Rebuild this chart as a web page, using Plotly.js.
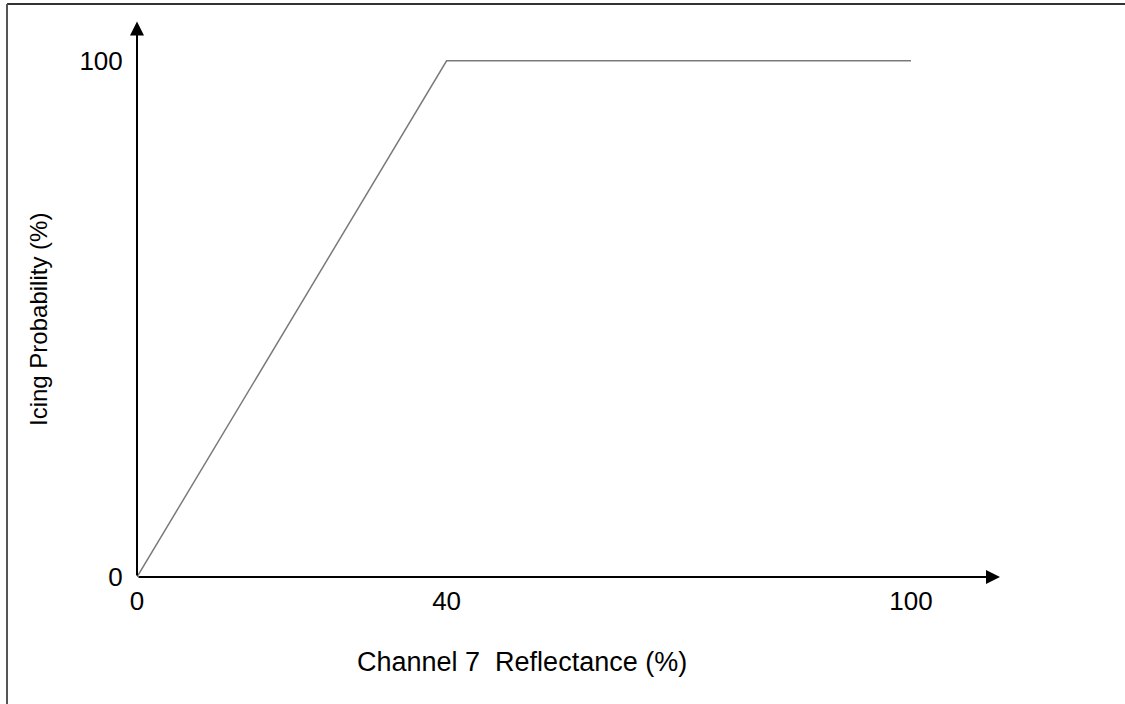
<!DOCTYPE html>
<html>
<head>
<meta charset="utf-8">
<script src="https://cdn.plot.ly/plotly-3.0.1.min.js"></script>
<style>html,body{margin:0;padding:0;background:#fff;}#chart{width:1125px;height:704px;}</style>
</head>
<body>
<div id="chart"></div>
<script>
// Data
const reflectance = [0, 40, 100];       // Channel 7 Reflectance (%)
const icingProb = [0, 100, 100];        // Icing Probability (%)
const xTickVals = [0, 40, 100];
const xTickText = ['0', '40', '100'];
const yTickVals = [0, 100];
const yTickText = ['0', '100'];
const xTitle = 'Channel 7  Reflectance (%)';
const yTitle = 'Icing Probability (%)';

const xMax = 111.5, yMax = 108.3;
const FONT = 'Liberation Sans, Arial, sans-serif';

const trace = {
  x: reflectance, y: icingProb, type: 'scatter', mode: 'lines',
  line: {color: '#7a7a7a', width: 1.5}, hoverinfo: 'skip', showlegend: false, cliponaxis: false
};

// paper-coordinate helpers
const L = 137, R = 125, T = 18, B = 127, W = 1125, H = 704;
const pw = W - L - R, ph = H - T - B;
const px = v => (v - L) / pw;
const py = v => ((H - B) - v) / ph;

const layout = {
  width: W, height: H,
  margin: {l: L, r: R, t: T, b: B, pad: 0},
  paper_bgcolor: '#fff', plot_bgcolor: '#fff',
  font: {family: FONT, size: 26, color: '#000'},
  xaxis: {
    range: [0, xMax], showgrid: false, zeroline: false, showline: false,
    tickvals: xTickVals, ticktext: xTickText, ticks: 'outside', ticklen: 1, tickcolor: 'rgba(0,0,0,0)',
    tickfont: {family: FONT, size: 26, color: '#000'},
    automargin: false, fixedrange: true
  },
  yaxis: {
    range: [0, yMax], showgrid: false, zeroline: false, showline: false,
    tickvals: yTickVals, ticktext: yTickText, ticks: 'outside', ticklen: 8, tickcolor: 'rgba(0,0,0,0)',
    tickfont: {family: FONT, size: 26, color: '#000'},
    automargin: false, fixedrange: true
  },
  annotations: [
    {x: xMax, y: 0, ax: 0, ay: 0, xref: 'x', yref: 'y', axref: 'x', ayref: 'y', text: '',
     showarrow: true, arrowhead: 2, arrowsize: 1.4, arrowwidth: 2, arrowcolor: '#000', standoff: 0},
    {x: 0, y: 107.6, ax: 0, ay: 0, xref: 'x', yref: 'y', axref: 'x', ayref: 'y', text: '',
     showarrow: true, arrowhead: 2, arrowsize: 1.4, arrowwidth: 2, arrowcolor: '#000', standoff: 0},
    {x: px(522), y: py(662), xref: 'paper', yref: 'paper', xanchor: 'center', yanchor: 'middle',
     text: xTitle, showarrow: false, font: {family: FONT, size: 27, color: '#000'}},
    {x: px(38), y: py(320), xref: 'paper', yref: 'paper', xanchor: 'center', yanchor: 'middle',
     text: yTitle, textangle: -90, showarrow: false, font: {family: FONT, size: 24, color: '#000'}}
  ],
  shapes: [
    {type: 'line', xref: 'paper', yref: 'paper', x0: px(7), y0: py(4), x1: px(1125), y1: py(4), line: {color: '#333', width: 2}},
    {type: 'line', xref: 'paper', yref: 'paper', x0: px(7), y0: py(4), x1: px(7), y1: py(704), line: {color: '#555', width: 2}}
  ]
};

Plotly.newPlot('chart', [trace], layout, {staticPlot: true, displayModeBar: false});
</script>
</body>
</html>
